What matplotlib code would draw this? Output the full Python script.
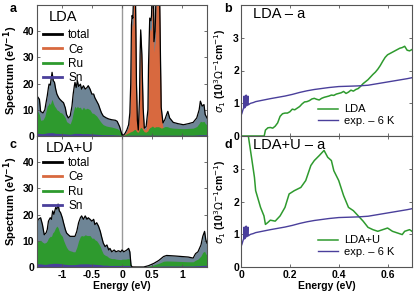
import matplotlib
matplotlib.use("Agg")
import matplotlib.pyplot as plt
import numpy as np

plt.rcParams['font.family'] = ['Liberation Sans', 'DejaVu Sans']
plt.rcParams['axes.unicode_minus'] = False

# ---------------- Panel a: LDA DOS ----------------
E_a = [-1.41, -1.37, -1.35, -1.31, -1.28, -1.26, -1.24, -1.22, -1.21, -1.19, -1.16, -1.14, -1.12, -1.10,
       -1.08, -1.05, -1.03, -1.00, -0.97, -0.94, -0.92, -0.89, -0.86, -0.83, -0.81, -0.79, -0.78, -0.76,
       -0.74, -0.72, -0.69, -0.67, -0.64, -0.61, -0.58, -0.56, -0.53, -0.50, -0.47, -0.45, -0.42, -0.39,
       -0.36, -0.34, -0.31, -0.26, -0.22, -0.17, -0.11, -0.08, -0.04, 0.00, 0.03, 0.05, 0.08, 0.11, 0.13,
       0.145, 0.157, 0.168, 0.18, 0.19, 0.205, 0.22, 0.23, 0.24, 0.255, 0.27, 0.29, 0.30, 0.31, 0.33, 0.35,
       0.37, 0.40, 0.43, 0.44, 0.46, 0.48, 0.49, 0.505, 0.52, 0.53, 0.55, 0.57, 0.59, 0.60, 0.62, 0.64,
       0.65, 0.68, 0.71, 0.74, 0.76, 0.79, 0.85, 0.93, 1.02, 1.10, 1.18, 1.24, 1.28, 1.30, 1.33, 1.36,
       1.38, 1.41]
tot_a = [15.3, 14.0, 9.4, 8.8, 10.0, 12.7, 15.3, 18.5, 19.8, 19.4, 24.3, 21.1, 20.5, 17.9,
         16.0, 14.6, 14.0, 13.3, 12.7, 10.7, 8.2, 6.9, 7.6, 11.4, 16.0, 19.2, 20.5, 18.5,
         21.1, 18.9, 19.8, 17.9, 19.2, 17.9, 18.5, 19.2, 17.9, 16.0, 16.0, 14.6, 13.3, 12.0,
         10.0, 8.8, 7.6, 6.9, 6.5, 6.2, 6.0, 5.6, 3.6, 0.4, 0.4, 1.0, 2.3, 4.3, 8.8,
         20.0, 42.4, 46.0, 45.0, 52.0, 60.0, 60.0, 40.0, 20.0, 6.0, 2.3, 14.0, 31.0, 40.5, 31.0, 11.0,
         3.0, 3.6, 10.0, 27.0, 45.0, 44.0, 46.0, 60.0, 60.0, 36.0, 40.0, 60.0, 55.0, 60.0, 60.0, 27.0,
         11.0, 5.0, 6.2, 8.2, 9.4, 6.9, 5.2, 4.7, 4.3, 4.7, 5.2, 6.9, 10.0, 13.3, 11.4, 12.0,
         8.2, 6.9]
ce_a = [0.5, 0.5, 0.5, 0.5, 0.5, 0.5, 0.5, 0.5, 0.5, 0.5, 0.5, 0.5, 0.5, 0.5,
        0.5, 0.5, 0.5, 0.5, 0.5, 0.5, 0.5, 0.5, 0.5, 0.5, 0.5, 0.5, 0.5, 0.5,
        0.6, 0.6, 0.6, 0.6, 0.6, 0.6, 0.7, 0.7, 0.7, 0.8, 0.8, 0.8, 0.9, 0.9,
        1.0, 1.0, 1.1, 1.2, 1.3, 1.5, 1.6, 1.6, 1.2, 0.2, 0.3, 0.8, 1.8, 3.5, 7.5,
        18.0, 39.0, 43.0, 42.0, 50.0, 58.0, 58.0, 37.0, 18.0, 5.0, 1.8, 12.5, 28.0, 37.5, 28.0, 9.5,
        2.3, 2.8, 8.5, 24.0, 41.0, 40.0, 42.0, 56.0, 56.0, 32.0, 36.0, 56.0, 50.0, 56.0, 56.0, 24.0,
        9.0, 3.0, 1.5, 1.2, 1.0, 0.9, 0.8, 0.8, 0.8, 0.8, 0.8, 0.9, 1.0, 1.0, 1.0, 1.0,
        0.9, 0.8]
ru_a = [10.0, 8.2, 6.0, 6.2, 7.5, 9.5, 11.4, 12.0, 12.7, 12.0, 14.0, 12.5, 11.4, 10.8,
        10.0, 9.6, 9.0, 8.8, 8.0, 6.9, 5.5, 5.0, 4.6, 6.5, 9.0, 10.8, 11.4, 10.6,
        11.4, 10.8, 11.0, 10.0, 11.0, 10.2, 10.6, 10.4, 10.0, 8.8, 8.6, 8.2, 7.6, 6.6,
        5.6, 5.0, 4.3, 3.8, 3.6, 3.4, 3.0, 2.8, 2.2, 0.2, 0.2, 0.5, 0.9, 1.2, 1.5,
        1.6, 1.8, 1.8, 2.0, 2.2, 2.5, 2.5, 2.2, 1.8, 1.5, 1.5, 2.4, 3.0, 3.3, 3.0, 2.2,
        1.6, 1.5, 2.0, 2.6, 3.2, 3.4, 3.6, 3.8, 3.5, 3.3, 3.4, 3.6, 3.5, 3.6, 3.4, 3.2,
        3.0, 3.2, 3.6, 3.6, 3.5, 3.2, 3.0, 2.9, 2.8, 2.9, 3.0, 3.6, 4.8, 5.6, 5.4, 5.6,
        4.8, 4.2]
sn_a = [1.0, 1.0, 0.9, 0.9, 1.0, 1.1, 1.2, 1.2, 1.3, 1.2, 1.3, 1.2, 1.1, 1.0,
        1.0, 1.0, 0.9, 0.9, 0.9, 0.8, 0.8, 0.7, 0.7, 0.8, 0.9, 1.0, 1.0, 1.0,
        1.0, 1.0, 1.0, 0.9, 0.9, 0.9, 0.9, 0.9, 0.8, 0.8, 0.8, 0.7, 0.7, 0.6,
        0.6, 0.5, 0.5, 0.5, 0.5, 0.5, 0.4, 0.4, 0.3, 0.1, 0.1, 0.2, 0.2, 0.3, 0.3,
        0.3, 0.3, 0.3, 0.3, 0.3, 0.3, 0.3, 0.3, 0.3, 0.3, 0.3, 0.3, 0.3, 0.3, 0.3, 0.3,
        0.3, 0.3, 0.3, 0.3, 0.3, 0.3, 0.3, 0.3, 0.3, 0.3, 0.3, 0.3, 0.3, 0.3, 0.3, 0.3,
        0.3, 0.3, 0.3, 0.3, 0.3, 0.3, 0.3, 0.3, 0.3, 0.3, 0.3, 0.4, 0.5, 0.5, 0.5, 0.5,
        0.5, 0.5]

# ---------------- Panel c: LDA+U DOS ----------------
E_c = [-1.41, -1.39, -1.35, -1.32, -1.29, -1.26, -1.24, -1.22, -1.19, -1.17, -1.15, -1.13, -1.10, -1.08,
       -1.06, -1.04, -1.02, -0.99, -0.97, -0.94, -0.92, -0.89, -0.86, -0.83, -0.81, -0.78, -0.75, -0.72,
       -0.69, -0.67, -0.64, -0.61, -0.58, -0.56, -0.53, -0.50, -0.47, -0.45, -0.42, -0.39, -0.36, -0.34,
       -0.31, -0.28, -0.25, -0.22, -0.20, -0.17, -0.13, -0.10, -0.06, -0.02, 0.00, 0.03, 0.06, 0.08, 0.11,
       0.13, 0.15, 0.17, 0.36, 0.44, 0.53, 0.61, 0.69, 0.74, 0.88, 0.99, 1.10, 1.18, 1.22, 1.26, 1.31,
       1.34, 1.37, 1.39, 1.41]
tot_c = [16.9, 18.2, 18.8, 16.2, 12.3, 13.0, 14.3, 17.5, 18.8, 18.2, 21.4, 20.1, 22.7, 22.1,
         24.0, 21.4, 20.8, 18.8, 16.9, 14.3, 13.0, 12.3, 11.7, 11.7, 11.7, 11.7, 13.6, 16.9,
         18.8, 19.5, 18.2, 19.5, 18.2, 18.8, 18.2, 17.5, 18.2, 16.2, 16.9, 15.6, 13.6, 11.7,
         9.1, 7.8, 8.4, 6.5, 7.1, 5.8, 6.5, 5.8, 6.2, 5.8, 6.5, 5.8, 6.2, 6.5, 7.1,
         5.8, 0.6, 0.0, 0.0, 0.5, 1.4, 2.5, 4.0, 4.4, 4.2, 4.0, 3.8, 3.4, 5.1, 5.8, 8.4,
         11.7, 13.6, 10.4, 9.1]
ce_c = [0.3] * 60 + [0.0, 0.1, 0.2, 0.3, 0.3, 0.3, 0.3, 0.3, 0.3, 0.3, 0.3, 0.3, 0.4,
                     0.4, 0.4, 0.4, 0.4]
ru_c = [10.4, 10.0, 10.2, 9.5, 9.1, 9.4, 10.0, 11.0, 11.7, 11.7, 13.0, 13.5, 15.0, 15.6,
        15.0, 13.5, 12.5, 11.7, 10.2, 8.5, 7.5, 6.5, 6.2, 6.0, 5.8, 5.8, 7.5, 10.0,
        11.7, 12.0, 11.8, 12.3, 12.0, 12.0, 12.0, 11.0, 11.0, 10.4, 10.0, 9.0, 7.8, 6.5,
        5.0, 4.5, 4.2, 3.6, 3.4, 3.2, 3.2, 3.0, 2.9, 2.8, 3.0, 3.0, 3.0, 3.1, 3.2,
        3.0, 0.3, 0.0, 0.0, 0.3, 0.8, 1.4, 2.2, 2.3, 2.2, 2.1, 2.0, 2.0, 2.6, 3.0, 4.2,
        5.6, 6.0, 5.0, 4.5]
sn_c = [1.2, 1.2, 1.2, 1.1, 1.0, 1.0, 1.1, 1.2, 1.3, 1.3, 1.4, 1.4, 1.4, 1.4,
        1.4, 1.3, 1.3, 1.2, 1.1, 1.0, 1.0, 0.9, 0.9, 0.9, 0.9, 0.9, 1.0, 1.1,
        1.2, 1.2, 1.2, 1.2, 1.2, 1.2, 1.1, 1.1, 1.1, 1.0, 1.0, 0.9, 0.9, 0.8,
        0.7, 0.7, 0.7, 0.6, 0.6, 0.6, 0.6, 0.6, 0.6, 0.6, 0.6, 0.6, 0.6, 0.6, 0.6,
        0.6, 0.1, 0.0, 0.0, 0.1, 0.2, 0.3, 0.4, 0.4, 0.4, 0.4, 0.4, 0.4, 0.5, 0.5, 0.6,
        0.6, 0.7, 0.6, 0.6]

# ---------------- Optical conductivity (b, d) ----------------
E_exp = [0.0, 0.004, 0.008, 0.011, 0.013, 0.015, 0.018, 0.021, 0.023, 0.025, 0.028, 0.030,
         0.032, 0.035, 0.04, 0.05, 0.06, 0.08, 0.10, 0.12, 0.15, 0.18, 0.21, 0.24, 0.27,
         0.30, 0.33, 0.36, 0.40, 0.44, 0.48, 0.52, 0.56, 0.60, 0.64, 0.68, 0.70]
sig_exp = [0.62, 0.70, 0.80, 0.86, 1.22, 0.86, 0.90, 1.25, 0.92, 0.95, 1.22, 0.95,
           0.96, 0.98, 1.00, 1.02, 1.05, 1.08, 1.11, 1.14, 1.18, 1.22, 1.27, 1.33, 1.38,
           1.42, 1.45, 1.48, 1.51, 1.52, 1.53, 1.55, 1.60, 1.65, 1.70, 1.75, 1.78]

E_lda = [0.0, 0.095, 0.10, 0.11, 0.12, 0.13, 0.14, 0.15, 0.16, 0.17, 0.18, 0.19, 0.20, 0.21, 0.22,
         0.23, 0.24, 0.25, 0.26, 0.27, 0.28, 0.29, 0.30, 0.31, 0.32, 0.33, 0.34, 0.35, 0.36, 0.37,
         0.38, 0.39, 0.40, 0.41, 0.42, 0.43, 0.44, 0.45, 0.46, 0.47, 0.48, 0.49, 0.50, 0.51, 0.52,
         0.53, 0.54, 0.55, 0.56, 0.57, 0.58, 0.59, 0.60, 0.61, 0.62, 0.63, 0.64, 0.65, 0.66, 0.67,
         0.68, 0.69, 0.70]
sig_lda = [0.0, 0.0, 0.18, 0.25, 0.26, 0.24, 0.30, 0.40, 0.60, 0.68, 0.70, 0.70, 0.74, 0.82, 0.80,
           0.85, 0.90, 0.98, 1.04, 1.05, 1.08, 1.13, 1.15, 1.12, 1.10, 1.15, 1.18, 1.20, 1.22, 1.25,
           1.24, 1.28, 1.30, 1.32, 1.36, 1.30, 1.34, 1.40, 1.37, 1.42, 1.45, 1.52, 1.60, 1.66, 1.72,
           1.80, 1.88, 1.95, 2.04, 2.15, 2.28, 2.40, 2.48, 2.52, 2.56, 2.60, 2.64, 2.68, 2.70, 2.74,
           2.62, 2.60, 2.64]

E_ldau = [0.0, 0.02, 0.03, 0.045, 0.055, 0.06, 0.08, 0.094, 0.10, 0.11, 0.12, 0.14, 0.16, 0.18,
          0.197, 0.218, 0.245, 0.265, 0.286, 0.30, 0.32, 0.34, 0.355, 0.37, 0.38, 0.40, 0.42, 0.44,
          0.46, 0.48, 0.50, 0.52, 0.54, 0.56, 0.58, 0.60, 0.62, 0.64, 0.66, 0.67, 0.69, 0.70]
sig_ldau = [8.0, 5.0, 4.0, 3.25, 2.74, 2.33, 1.82, 1.56, 1.30, 1.36, 1.43, 1.40, 1.56, 1.82,
            2.23, 2.33, 2.43, 2.64, 3.10, 3.25, 3.40, 3.56, 3.35, 3.25, 2.94, 2.64, 2.18, 1.82,
            1.72, 1.56, 1.40, 1.21, 1.14, 1.09, 1.14, 1.19, 1.09, 1.04, 0.99, 1.09, 1.14, 1.09]

dos_labels = ['total', 'Ce', 'Ru', 'Sn']
c_total_fill = '#6e8596'
c_ce = '#d8693f'
c_ru = '#2e9a2e'
c_sn = '#4a3f9b'
spine_c = '#555555'

fig = plt.figure(figsize=(4.15, 2.96), dpi=100)
W, H = 415.0, 296.0

def ax_at(x0, y0, x1, y1):
    return fig.add_axes([x0 / W, 1 - y1 / H, (x1 - x0) / W, (y1 - y0) / H])

ax_a = ax_at(37, 5, 207, 136)
ax_c = ax_at(37, 136, 207, 267)
ax_b = ax_at(241, 5, 412, 136)
ax_d = ax_at(241, 136, 412, 267)

def style(ax):
    for s in ax.spines.values():
        s.set_color(spine_c)
        s.set_linewidth(0.8)
    ax.tick_params(direction='in', top=True, right=True, length=2.5, width=0.6,
                   color=spine_c, labelsize=7.5, pad=2)
    for lab in ax.get_xticklabels() + ax.get_yticklabels():
        lab.set_fontweight('bold')

def dos(ax, E, tot, ce, ru, sn, title, tx, ly):
    ax.fill_between(E, 0, tot, color=c_total_fill, lw=0)
    ax.fill_between(E, 0, ce, color=c_ce, lw=0)
    ax.fill_between(E, 0, ru, color=c_ru, lw=0)
    ax.fill_between(E, 0, sn, color=c_sn, lw=0)
    ax.plot(E, tot, color='black', lw=0.9)
    ax.axvline(0, color='#999999', lw=1.0, zorder=0.5)
    ax.set_xlim(-1.41, 1.41)
    ax.set_ylim(0, 50)
    ax.set_yticks([0, 10, 20, 30, 40])
    ax.set_xticks([-1, -0.5, 0, 0.5, 1])
    ax.set_xticklabels(['-1', '-0.5', '0', '0.5', '1'])
    hs = [plt.Line2D([], [], color=c, lw=2) for c in ['black', c_ce, c_ru, c_sn]]
    ax.legend(hs, dos_labels, loc='upper left', bbox_to_anchor=(0.035, ly),
              frameon=False, fontsize=8.5, handlelength=1.6, handletextpad=0.55,
              labelspacing=0.2, borderpad=0, borderaxespad=0)
    ax.text(tx, 0.91, title, transform=ax.transAxes, fontsize=10.5, va='center', ha='left')
    ax.set_ylabel('Spectrum (eV$^{\\mathbf{-1}}$)', fontsize=8, fontweight='bold', labelpad=2)
    style(ax)

dos(ax_a, E_a, tot_a, ce_a, ru_a, sn_a, 'LDA', 0.07, 0.815)
dos(ax_c, E_c, tot_c, ce_c, ru_c, sn_c, 'LDA+U', 0.05, 0.84)
ax_a.tick_params(labelbottom=False)
ax_c.set_xlabel('Energy (eV)', fontsize=7.5, fontweight='bold', labelpad=1)

def opt(ax, E, s, lab, title):
    ax.plot(E, s, color=c_ru, lw=1.1, label=lab)
    ax.plot(E_exp, sig_exp, color=c_sn, lw=1.0, label='exp. – 6 K')
    ax.set_xlim(0, 0.7)
    ax.set_ylim(0, 4)
    ax.set_yticks([0, 1, 2, 3])
    ax.set_xticks([0, 0.2, 0.4, 0.6])
    ax.set_xticklabels(['0', '0.2', '0.4', '0.6'])
    ax.legend(loc='lower left', bbox_to_anchor=(0.45, 0.08), frameon=False, fontsize=8,
              handlelength=1.8, handletextpad=0.55, labelspacing=0.1, borderpad=0,
              borderaxespad=0)
    ax.text(0.068, 0.93, title, transform=ax.transAxes, fontsize=10.5, va='center', ha='left')
    ax.set_ylabel('$\\sigma_1$ (10$^3\\Omega^{-1}$cm$^{-1}$)', fontsize=7.5, fontweight='bold',
                  labelpad=4)
    style(ax)
    ax.tick_params(axis='y', pad=1.5)

opt(ax_b, E_lda, sig_lda, 'LDA', 'LDA – a')
opt(ax_d, E_ldau, sig_ldau, 'LDA+U', 'LDA+U – a')
ax_b.tick_params(labelbottom=False)
ax_d.set_xlabel('Energy (eV)', fontsize=7.5, fontweight='bold', labelpad=1)

for txt, x, y in [('a', 13, 9), ('c', 13, 145), ('b', 228, 9), ('d', 228, 145)]:
    fig.text(x / W, 1 - y / H, txt, fontsize=9, fontweight='bold', ha='center', va='center')

fig.savefig('out.png', dpi=100)
